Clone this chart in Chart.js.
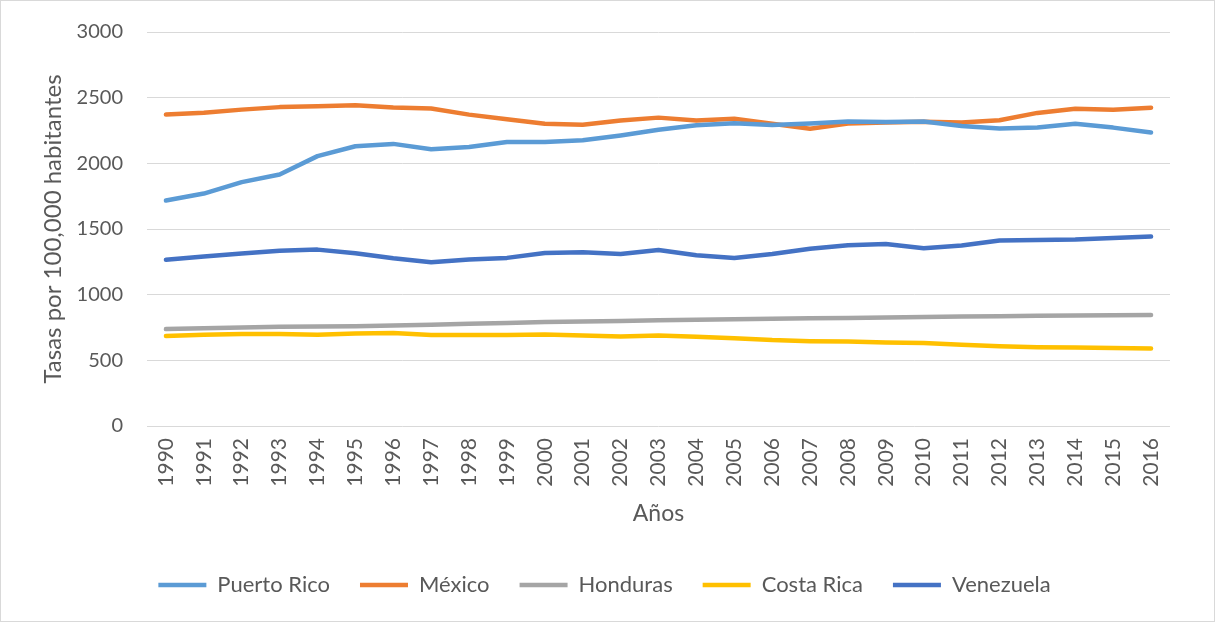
<!DOCTYPE html>
<html lang="es">
<head>
    <meta charset="UTF-8">
    <title>Tasas por 100,000 habitantes</title>
    <style>
        * {
            margin: 0;
            padding: 0;
            box-sizing: border-box;
        }

        body {
            background-color: #ffffff;
        }

        .chart-box {
            width: 1215px;
            height: 622px;
            border: 1px solid #d9d9d9;
            position: relative;
        }
    </style>
    <script src="https://cdn.jsdelivr.net/npm/chart.js@4.4.0/dist/chart.umd.min.js"></script>
</head>
<body>
    <div class="chart-box">
        <canvas id="tasasChart"></canvas>
    </div>

    <script>
        // Datos
        const years = ['1990', '1991', '1992', '1993', '1994', '1995', '1996', '1997', '1998', '1999',
            '2000', '2001', '2002', '2003', '2004', '2005', '2006', '2007', '2008', '2009',
            '2010', '2011', '2012', '2013', '2014', '2015', '2016'];

        const puertoRico = [1717, 1770, 1857, 1915, 2055, 2130, 2148, 2107, 2125, 2162,
            2163, 2175, 2212, 2255, 2290, 2305, 2292, 2303, 2318, 2314,
            2318, 2285, 2266, 2272, 2302, 2272, 2235];

        const mexico = [2371, 2386, 2409, 2428, 2434, 2443, 2425, 2417, 2371, 2336,
            2301, 2294, 2326, 2348, 2326, 2340, 2302, 2264, 2303, 2311,
            2316, 2311, 2328, 2384, 2415, 2408, 2424];

        const honduras = [738, 745, 750, 755, 757, 760, 765, 770, 778, 785,
            792, 796, 800, 805, 809, 813, 816, 820, 822, 826,
            830, 834, 836, 839, 841, 843, 845];

        const costaRica = [685, 695, 700, 700, 695, 705, 708, 693, 693, 693,
            697, 690, 682, 690, 679, 669, 654, 646, 643, 636,
            632, 618, 608, 600, 598, 594, 590];

        const venezuela = [1265, 1290, 1313, 1335, 1343, 1315, 1277, 1247, 1267, 1280,
            1318, 1323, 1310, 1340, 1300, 1280, 1310, 1349, 1377, 1385,
            1354, 1374, 1412, 1417, 1420, 1432, 1443];

        const yTicks = [0, 500, 1000, 1500, 2000, 2500, 3000];

        const textColor = '#595959';
        const fontName = 'Lato, "Liberation Sans", sans-serif';

        function serie(label, data, color) {
            return {
                label: label,
                data: data,
                borderColor: color,
                backgroundColor: color,
                borderWidth: 4.5,
                borderCapStyle: 'round',
                borderJoinStyle: 'round',
                pointRadius: 0,
                pointHoverRadius: 0,
                tension: 0,
                fill: false
            };
        }

        const chart = new Chart(document.getElementById('tasasChart'), {
            type: 'line',
            data: {
                labels: years,
                datasets: [
                    serie('Puerto Rico', puertoRico, '#5b9bd5'),
                    serie('México', mexico, '#ed7d31'),
                    serie('Honduras', honduras, '#a5a5a5'),
                    serie('Costa Rica', costaRica, '#ffc000'),
                    serie('Venezuela', venezuela, '#4472c4')
                ]
            },
            options: {
                responsive: true,
                maintainAspectRatio: false,
                animation: false,
                layout: {
                    padding: { top: 31, right: 44, bottom: 15, left: 38 }
                },
                plugins: {
                    tooltip: { enabled: false },
                    legend: {
                        position: 'bottom',
                        labels: {
                            usePointStyle: true,
                            pointStyle: 'line',
                            pointStyleWidth: 48,
                            padding: 30,
                            color: textColor,
                            font: { family: fontName, size: 22 }
                        }
                    }
                },
                scales: {
                    x: {
                        offset: true,
                        grid: { display: false, drawTicks: false },
                        border: { display: false },
                        ticks: {
                            autoSkip: false,
                            minRotation: 90,
                            maxRotation: 90,
                            padding: 12,
                            color: textColor,
                            font: { family: fontName, size: 21 }
                        },
                        title: {
                            display: true,
                            text: 'Años',
                            color: textColor,
                            padding: { top: 4, bottom: 17 },
                            font: { family: fontName, size: 23 }
                        },
                        afterFit: function (scale) {
                            scale.height = 118;
                        }
                    },
                    y: {
                        min: 0,
                        max: 3000,
                        afterBuildTicks: function (scale) {
                            scale.ticks = yTicks.map(v => ({ value: v }));
                        },
                        // tick marks kept invisible so the label gap does not add top padding
                        grid: {
                            color: '#d9d9d9',
                            lineWidth: 1,
                            drawTicks: true,
                            tickLength: 16,
                            tickColor: 'rgba(0,0,0,0)'
                        },
                        border: { display: false },
                        ticks: {
                            padding: 8,
                            color: textColor,
                            font: { family: fontName, size: 20 },
                            callback: function (value) {
                                return String(value);
                            }
                        },
                        title: {
                            display: true,
                            text: 'Tasas por 100,000 habitantes',
                            color: textColor,
                            padding: 0,
                            font: { family: fontName, size: 24 }
                        },
                        afterFit: function (scale) {
                            scale.width = 108;
                        }
                    }
                }
            }
        });
    </script>
</body>
</html>
